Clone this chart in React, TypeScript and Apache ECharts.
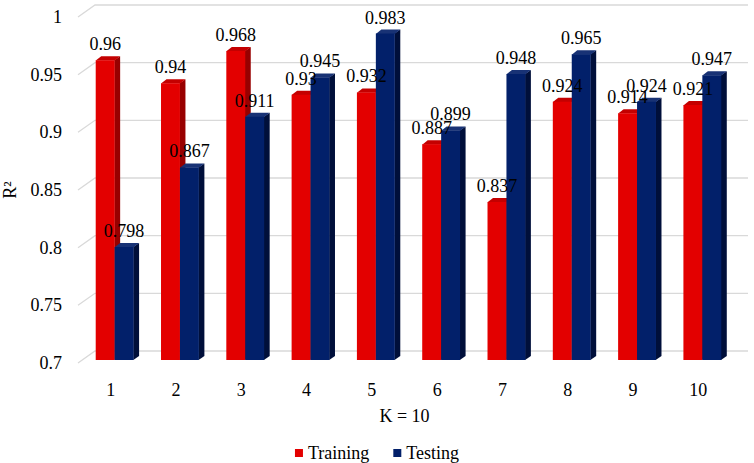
import React, { useEffect, useRef } from "react";
import * as echarts from "echarts";

const categories = ["1", "2", "3", "4", "5", "6", "7", "8", "9", "10"];
const training = [0.96, 0.94, 0.968, 0.93, 0.932, 0.887, 0.837, 0.924, 0.914, 0.921];
const testing = [0.798, 0.867, 0.911, 0.945, 0.983, 0.899, 0.948, 0.965, 0.924, 0.947];
const yTicks = [0.7, 0.75, 0.8, 0.85, 0.9, 0.95, 1];
const yTickLabels = ["0.7", "0.75", "0.8", "0.85", "0.9", "0.95", "1"];

const FONT = "Liberation Serif";
const FS = 18;
const WALL_DX = 17;
const WALL_DY = -12;
const OFF_X = 4;
const OFF_Y = -3;
const DEP_X = 5.5;
const DEP_Y = -4;

const RED = { front: "#e30000", side: "#980000", top: "#c40000" };
const BLUE = { front: "#02206a", side: "#000f3a", top: "#183275" };

function barGeom(api: any, slot: number) {
  const idx = api.value(0);
  const v = api.value(1);
  const top = api.coord([idx, v]);
  const base = api.coord([idx, 0.7]);
  const band = api.size([1, 0])[0];
  const bw = band * 0.29;
  const xl = top[0] + OFF_X + (slot === 0 ? -bw : 0);
  const xr = xl + bw;
  const yt = top[1] + OFF_Y;
  const yb = base[1] + OFF_Y;
  return { xl, xr, yt, yb, bw, v };
}

function makeBar(slot: number, c: { front: string; side: string; top: string }) {
  return (params: any, api: any) => {
    const { xl, xr, yt, yb, bw } = barGeom(api, slot);
    return {
      type: "group",
      children: [
        {
          type: "polygon",
          shape: { points: [[xr - 0.3, yt], [xr + DEP_X, yt + DEP_Y], [xr + DEP_X, yb + DEP_Y], [xr - 0.3, yb]] },
          style: { fill: c.side },
        },
        {
          type: "polygon",
          shape: { points: [[xl, yt + 0.3], [xr, yt + 0.3], [xr + DEP_X, yt + DEP_Y], [xl + DEP_X, yt + DEP_Y]] },
          style: { fill: c.top },
        },
        { type: "rect", shape: { x: xl, y: yt, width: bw, height: yb - yt }, style: { fill: c.front } },
      ],
    };
  };
}

function makeLabel(slot: number) {
  return (params: any, api: any) => {
    const { xl, bw, yt, v } = barGeom(api, slot);
    return {
      type: "text",
      style: {
        text: String(v),
        x: xl + bw / 2,
        y: yt - 16,
        align: "center",
        verticalAlign: "middle",
        fontFamily: FONT,
        fontSize: FS,
        fill: "#000",
      },
    };
  };
}

function renderGrid(params: any, api: any) {
  const cs = params.coordSys;
  const y = api.coord([0, api.value(1)])[1];
  const x0 = cs.x;
  const x1 = cs.x + cs.width;
  return {
    type: "polyline",
    shape: { points: [[x0, y], [x0 + WALL_DX, y + WALL_DY], [x1 + WALL_DX, y + WALL_DY]] },
    style: { stroke: "#d9d9d9", lineWidth: 1.3, fill: "none" },
  };
}

export default function App() {
  const ref = useRef<HTMLDivElement>(null);
  useEffect(() => {
    if (!ref.current) return;
    const chart = echarts.init(ref.current, undefined, { renderer: "svg" });
    const trainData = training.map((v, i) => [i, v]);
    const testData = testing.map((v, i) => [i, v]);
    chart.setOption({
      animation: false,
      backgroundColor: "#ffffff",
      textStyle: { fontFamily: FONT },
      grid: { left: 78, top: 17, right: 23, bottom: 100, containLabel: false, outerBoundsMode: "none" },
      legend: {
        top: 439,
        left: "center",
        itemWidth: 8,
        itemHeight: 8,
        itemGap: 24,
        icon: "rect",
        textStyle: { fontFamily: FONT, fontSize: FS, color: "#000" },
        data: [
          { name: "Training", itemStyle: { color: RED.front } },
          { name: "Testing", itemStyle: { color: BLUE.front } },
        ],
      },
      xAxis: {
        type: "category",
        data: categories,
        name: "K = 10",
        nameLocation: "middle",
        nameGap: 53,
        nameTextStyle: { fontFamily: FONT, fontSize: FS, color: "#000", verticalAlign: "middle" },
        axisLine: { show: false },
        axisTick: { show: false },
        axisLabel: { fontFamily: FONT, fontSize: FS, color: "#000", margin: 18 },
      },
      yAxis: {
        type: "value",
        min: 0.7,
        max: 1,
        interval: 0.05,
        name: "R²",
        nameLocation: "middle",
        nameGap: 59,
        nameTextStyle: { fontFamily: FONT, fontSize: FS, color: "#000" },
        axisLine: { show: false },
        axisTick: { show: false },
        splitLine: { show: false },
        axisLabel: {
          fontFamily: FONT,
          fontSize: FS,
          color: "#000",
          margin: 16,
          formatter: (v: number) => {
            const i = yTicks.findIndex((t) => Math.abs(t - v) < 1e-6);
            return i >= 0 ? yTickLabels[i] : "";
          },
        },
      },
      series: [
        {
          name: "grid",
          type: "custom",
          clip: false,
          silent: true,
          z: 1,
          data: yTicks.map((t) => [0, t]),
          encode: { x: 0, y: 1 },
          renderItem: renderGrid,
        },
        {
          name: "Training",
          type: "custom",
          clip: false,
          z: 2,
          itemStyle: { color: RED.front },
          data: trainData,
          encode: { x: 0, y: 1 },
          renderItem: makeBar(0, RED),
        },
        {
          name: "Testing",
          type: "custom",
          clip: false,
          z: 2,
          itemStyle: { color: BLUE.front },
          data: testData,
          encode: { x: 0, y: 1 },
          renderItem: makeBar(1, BLUE),
        },
        {
          name: "trainLabels",
          type: "custom",
          clip: false,
          silent: true,
          z: 5,
          data: trainData,
          encode: { x: 0, y: 1 },
          renderItem: makeLabel(0),
        },
        {
          name: "testLabels",
          type: "custom",
          clip: false,
          silent: true,
          z: 5,
          data: testData,
          encode: { x: 0, y: 1 },
          renderItem: makeLabel(1),
        },
      ],
    });
    return () => chart.dispose();
  }, []);
  return (
    <div
      ref={ref}
      style={{ position: "fixed", left: 0, top: 0, width: 754, height: 463, background: "#fff" }}
    />
  );
}
